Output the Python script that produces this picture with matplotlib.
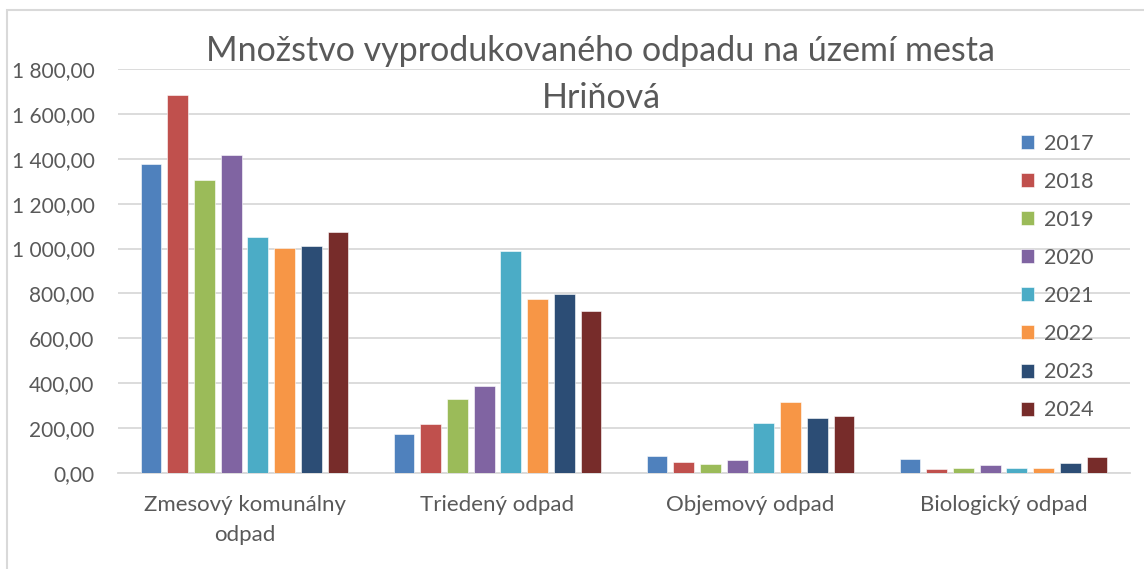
import matplotlib.pyplot as plt
import matplotlib.patches as mpatches
import numpy as np
from matplotlib.ticker import FuncFormatter

plt.rcParams['font.family'] = ['Lato', 'DejaVu Sans']

categories = ['Zmesový komunálny\nodpad', 'Triedený odpad', 'Objemový odpad', 'Biologický odpad']
years = ['2017', '2018', '2019', '2020', '2021', '2022', '2023', '2024']
values = {
    '2017': [1375, 174, 77, 62],
    '2018': [1682, 217, 51, 16],
    '2019': [1304, 328, 39, 21],
    '2020': [1415, 387, 58, 34],
    '2021': [1050, 987, 224, 21],
    '2022': [1001, 776, 318, 24],
    '2023': [1010, 798, 245, 43],
    '2024': [1072, 723, 252, 71],
}
colors = ['#4F81BD', '#C0504D', '#9BBB59', '#8064A2', '#4BACC6', '#F79646', '#2C4D75', '#772C2A']
title = 'Množstvo vyprodukovaného odpadu na území mesta\nHriňová'

txt = '#595959'
grid = '#D9D9D9'

fig = plt.figure(figsize=(11.44, 5.69), dpi=100)
W, H = 1144, 569
ax = fig.add_axes([118 / W, 1 - 473 / H, (1130 - 118) / W, (473 - 69) / H])

# chart border
fig.patches.append(mpatches.Rectangle((7 / W, -0.01), 1.0, 1 - 10 / H + 0.01,
                                      transform=fig.transFigure, fill=False,
                                      edgecolor=grid, linewidth=1.5))

x = np.arange(len(categories))
step = 0.1055
width = 0.082
for i, y in enumerate(years):
    ax.bar(x + (i - 3.5) * step, values[y], width, color=colors[i], label=y,
           edgecolor='white', linewidth=0.4, zorder=3)

ax.set_xlim(-0.5, len(categories) - 0.5)
ax.set_ylim(0, 1800)
ax.set_yticks(np.arange(0, 1801, 200))
ax.yaxis.set_major_formatter(FuncFormatter(
    lambda v, p: f'{v:,.2f}'.replace(',', ' ').replace('.', ',')))
ax.grid(axis='y', color=grid, linewidth=1.3, zorder=0)
for s in ['top', 'right', 'left']:
    ax.spines[s].set_visible(False)
ax.spines['bottom'].set_color(grid)
ax.spines['bottom'].set_linewidth(1.3)
ax.tick_params(axis='y', length=0, pad=17, labelsize=15, labelcolor=txt)
ax.tick_params(axis='x', length=0, pad=16, labelsize=16, labelcolor=txt)
ax.set_xticks(x)
ax.set_xticklabels(categories, linespacing=1.6)

fig.text(601 / W, 1 - 74.5 / H, title, ha='center', va='center', fontsize=24.5,
         color=txt, linespacing=1.6)

ax.legend(loc='upper left', bbox_to_anchor=(894 / 1012, 1 - 56 / 404), frameon=False,
          fontsize=15.5, labelcolor=txt, handlelength=0.62, handleheight=0.62,
          handletextpad=0.45, labelspacing=0.84, borderaxespad=0)

fig.savefig('out.png', dpi=100)
